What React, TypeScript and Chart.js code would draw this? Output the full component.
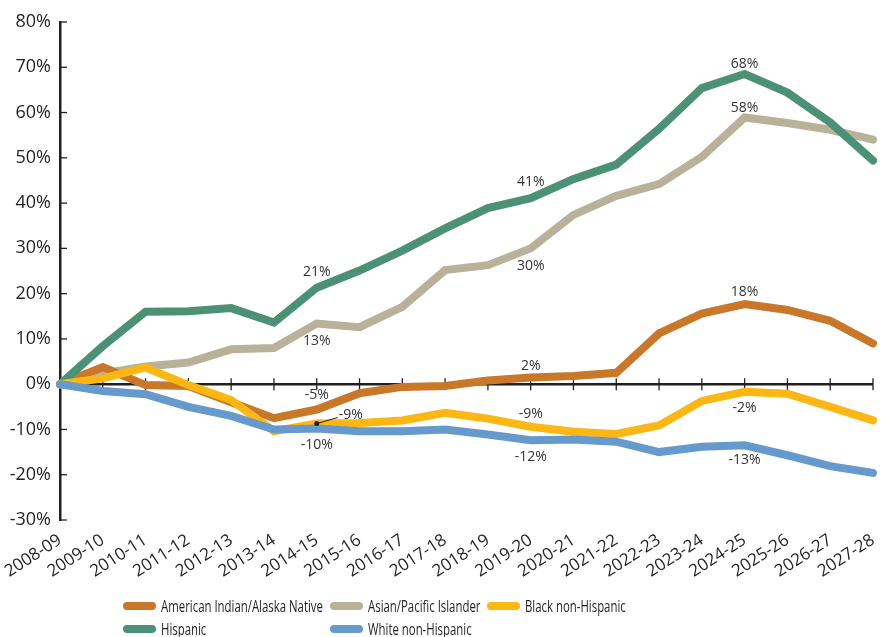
import React, { useEffect, useRef } from "react";
import { Chart, registerables } from "chart.js";

Chart.register(...registerables);

const categories = [
  "2008-09", "2009-10", "2010-11", "2011-12", "2012-13", "2013-14", "2014-15",
  "2015-16", "2016-17", "2017-18", "2018-19", "2019-20", "2020-21", "2021-22",
  "2022-23", "2023-24", "2024-25", "2025-26", "2026-27", "2027-28",
];

const americanIndian = [0, 3.8, -0.2, -0.4, -4.0, -7.5, -5.6, -2.0, -0.6, -0.4, 0.8, 1.5, 1.8, 2.5, 11.2, 15.6, 17.7, 16.4, 14.0, 9.0];
const asianPacific = [0, 2.4, 3.9, 4.8, 7.7, 8.0, 13.4, 12.6, 17.1, 25.2, 26.3, 30.0, 37.4, 41.6, 44.2, 50.2, 58.9, 57.7, 56.2, 54.0];
const blackNonHispanic = [0, 1.3, 3.7, -0.2, -3.5, -10.4, -8.7, -8.6, -8.0, -6.3, -7.6, -9.4, -10.5, -11.0, -9.1, -3.7, -1.7, -2.1, -5.0, -8.0];
const hispanic = [0, 8.4, 16.0, 16.1, 16.8, 13.6, 21.3, 25.1, 29.5, 34.4, 38.9, 41.1, 45.3, 48.5, 56.4, 65.4, 68.5, 64.4, 57.8, 49.4];
const whiteNonHispanic = [0, -1.5, -2.2, -5.0, -7.0, -10.0, -9.8, -10.4, -10.4, -10.0, -11.1, -12.4, -12.2, -12.7, -15.0, -13.8, -13.5, -15.7, -18.1, -19.6];

const seriesNames = [
  "American Indian/Alaska Native",
  "Asian/Pacific Islander",
  "Black non-Hispanic",
  "Hispanic",
  "White non-Hispanic",
];
const seriesValues = [americanIndian, asianPacific, blackNonHispanic, hispanic, whiteNonHispanic];
const seriesColors = ["#C97728", "#B9B29A", "#FDB714", "#4C9176", "#6699CC"];

const yMin = -30;
const yMax = 80;
const yStep = 10;

// value labels: series index, category index, text
const labelSeries = [3, 1, 0, 3, 1, 3, 1, 0, 0, 2, 4, 2, 4, 2, 4];
const labelIndex = [16, 16, 16, 11, 11, 6, 6, 11, 6, 6, 6, 11, 11, 16, 16];
const labelTexts = ["68%", "58%", "18%", "41%", "30%", "21%", "13%", "2%", "-5%", "-9%", "-10%", "-9%", "-12%", "-2%", "-13%"];
// placement offsets (style, not data)
const labelDx = [0, 0, 0, 0, 0, 0, 0, 0, 0, 34, 0, 0, 0, 0, 0];
const labelDy = [-10, -10, -12, -16, 18, -16, 17, -11, -15, -9, 16, -13, 17, 16, 15];
const labelLeader = [false, false, false, false, false, false, false, false, false, true, false, false, false, false, false];

const AXIS_COLOR = "#231F20";
const TEXT_COLOR = "#231F20";
const NUM_FONT = "'Open Sans', 'Noto Sans', sans-serif";
const LEGEND_FONT = "'Open Sans', 'Noto Sans', sans-serif";
const LEGEND_CONDENSE = 0.67;

const decorPlugin = {
  id: "decor",
  beforeDatasetsDraw(chart: any) {
    const { ctx, chartArea, scales } = chart;
    const x = scales.x;
    const y = scales.y;
    const y0 = y.getPixelForValue(0);
    ctx.save();
    ctx.strokeStyle = AXIS_COLOR;
    ctx.lineWidth = 2.5;
    ctx.beginPath();
    ctx.moveTo(chartArea.left, y0);
    ctx.lineTo(chartArea.right, y0);
    ctx.stroke();
    ctx.lineWidth = 1.3;
    for (let i = 1; i < categories.length; i++) {
      const px = x.getPixelForValue(i);
      ctx.beginPath();
      ctx.moveTo(px, y0 - 6);
      ctx.lineTo(px, y0 + 6);
      ctx.stroke();
    }
    for (let v = yMin; v <= yMax; v += yStep) {
      const py = y.getPixelForValue(v);
      ctx.beginPath();
      ctx.moveTo(chartArea.left, py);
      ctx.lineTo(chartArea.left + 7, py);
      ctx.stroke();
    }
    ctx.restore();
  },
  afterDatasetsDraw(chart: any) {
    const { ctx, scales } = chart;
    const x = scales.x;
    const y = scales.y;
    ctx.save();
    ctx.font = `14px ${NUM_FONT}`;
    ctx.fillStyle = "#333333";
    ctx.textAlign = "center";
    ctx.textBaseline = "middle";
    for (let k = 0; k < labelTexts.length; k++) {
      const s = labelSeries[k];
      const i = labelIndex[k];
      const px = x.getPixelForValue(i);
      const py = y.getPixelForValue(seriesValues[s][i]);
      const tx = px + labelDx[k];
      const ty = py + labelDy[k];
      if (labelLeader[k]) {
        ctx.strokeStyle = "#231F20";
        ctx.lineWidth = 1;
        ctx.beginPath();
        ctx.arc(px, py, 2.5, 0, Math.PI * 2);
        ctx.fillStyle = "#231F20";
        ctx.fill();
        ctx.beginPath();
        ctx.moveTo(px, py);
        ctx.lineTo(tx - 13, ty + 3);
        ctx.stroke();
        ctx.fillStyle = "#333333";
      }
      ctx.fillText(labelTexts[k], tx, ty);
    }
    ctx.restore();
  },
  afterDraw(chart: any) {
    const { ctx } = chart;
    const colX = [123, 330, 487];
    const rowY = [606, 629];
    ctx.save();
    ctx.font = `17px ${LEGEND_FONT}`;
    ctx.textAlign = "left";
    ctx.textBaseline = "middle";
    for (let k = 0; k < seriesNames.length; k++) {
      const cx = colX[k % 3];
      const cy = rowY[Math.floor(k / 3)];
      ctx.strokeStyle = seriesColors[k];
      ctx.lineWidth = 8;
      ctx.lineCap = "round";
      ctx.beginPath();
      ctx.moveTo(cx + 4, cy);
      ctx.lineTo(cx + 29, cy);
      ctx.stroke();
      ctx.fillStyle = TEXT_COLOR;
      ctx.save();
      ctx.translate(cx + 38, cy + 1);
      ctx.scale(LEGEND_CONDENSE, 1);
      ctx.fillText(seriesNames[k], 0, 0);
      ctx.restore();
    }
    ctx.restore();
  },
};

export default function App() {
  const canvasRef = useRef<HTMLCanvasElement | null>(null);

  useEffect(() => {
    if (!canvasRef.current) return;
    const order = [3, 4, 1, 2, 0];
    const chart = new Chart(canvasRef.current, {
      type: "line",
      data: {
        labels: categories,
        datasets: seriesNames.map((name, k) => ({
          label: name,
          data: seriesValues[k],
          borderColor: seriesColors[k],
          backgroundColor: seriesColors[k],
          borderWidth: 8,
          borderCapStyle: "round" as const,
          borderJoinStyle: "miter" as const,
          pointRadius: 0,
          tension: 0,
          fill: false,
          order: order[k],
        })),
      },
      options: {
        animation: false,
        responsive: true,
        maintainAspectRatio: false,
        layout: { padding: { top: 22, right: 12, bottom: 60, left: 0 } },
        plugins: {
          legend: { display: false },
          tooltip: { enabled: false },
          title: { display: false },
        },
        scales: {
          x: {
            type: "category",
            grid: { display: false, drawTicks: false },
            border: { display: false },
            ticks: {
              autoSkip: false,
              maxRotation: 33,
              minRotation: 33,
              color: TEXT_COLOR,
              font: { size: 17, family: NUM_FONT },
              padding: 10,
            },
            afterFit: (scale: any) => {
              scale.height = 57;
              scale.paddingLeft = 0;
              scale.paddingRight = 0;
            },
          },
          y: {
            min: yMin,
            max: yMax,
            grid: { display: false, drawTicks: false },
            border: { display: true, color: AXIS_COLOR, width: 2.5 },
            ticks: {
              stepSize: yStep,
              color: TEXT_COLOR,
              font: { size: 18, family: NUM_FONT },
              padding: 9,
              callback: (v: any) => `${v}%`,
            },
            afterFit: (scale: any) => {
              scale.width = 60;
            },
          },
        },
      },
      plugins: [decorPlugin],
    });
    return () => chart.destroy();
  }, []);

  return (
    <div style={{ position: "fixed", left: 0, top: 0, width: 885, height: 637, background: "#ffffff" }}>
      <canvas ref={canvasRef} />
    </div>
  );
}
